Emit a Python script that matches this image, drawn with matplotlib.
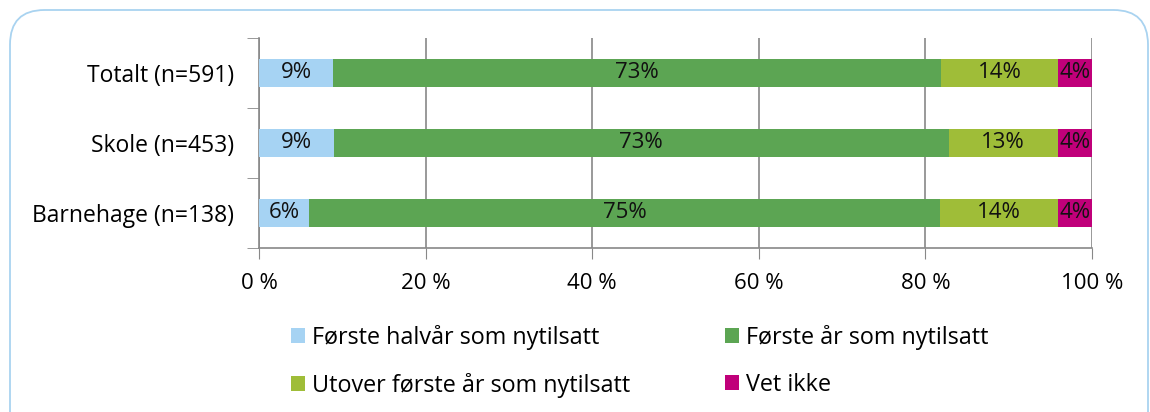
import numpy as np
import matplotlib.pyplot as plt
from matplotlib.patches import FancyBboxPatch

plt.rcParams['font.family'] = ['Open Sans', 'DejaVu Sans']

categories = ['Totalt (n=591)', 'Skole (n=453)', 'Barnehage (n=138)']
series_names = ['Første halvår som nytilsatt', 'Første år som nytilsatt',
                'Utover første år som nytilsatt', 'Vet ikke']
values = [[8.9, 73.0, 14.0, 4.1],
          [9.0, 73.8, 13.1, 4.1],
          [6.0, 75.8, 14.1, 4.1]]
labels = [['9%', '73%', '14%', '4%'],
          ['9%', '73%', '13%', '4%'],
          ['6%', '75%', '14%', '4%']]
colors = ['#A6D3F3', '#5CA553', '#9FBD38', '#C0007A']
xticks = [0, 20, 40, 60, 80, 100]

fig = plt.figure(figsize=(11.5, 4.12), dpi=100)
ax = fig.add_axes([259/1150, 1-248/412, (1092-259)/1150, 210/412])

# rounded frame around the chart
frame = FancyBboxPatch((10/1150, -0.1), 1138/1150, 1-10/412+0.1,
                       boxstyle='round,pad=0,rounding_size=0.03',
                       transform=fig.transFigure, fill=False,
                       edgecolor='#A9D3F0', linewidth=1.3, mutation_aspect=2.8)
fig.patches.append(frame)

vals = np.array(values)
ypos = np.arange(len(categories))
left = np.zeros(len(categories))
bars = []
for j in range(vals.shape[1]):
    b = ax.barh(ypos, vals[:, j], left=left, height=0.39, color=colors[j],
                label=series_names[j], zorder=3)
    bars.append(b)
    for i in range(len(categories)):
        ax.text(left[i] + vals[i, j]/2, ypos[i], labels[i][j], ha='center',
                va='center', fontsize=16, color='#111111', zorder=4)
    left = left + vals[:, j]

ax.set_xlim(0, 100)
ax.set_ylim(2.5, -0.5)
ax.set_xticks(xticks)
ax.set_xticklabels([str(t) + ' %' for t in xticks], fontsize=16)
ax.set_yticks(ypos)
ax.set_yticklabels(categories, fontsize=16.5)
ax.tick_params(axis='y', length=0, pad=18)
ax.tick_params(axis='x', length=8, color='#888888', pad=10)
ax.set_yticks([-0.5, 0.5, 1.5, 2.5], minor=True)
ax.tick_params(axis='y', which='minor', length=9, color='#888888')
ax.xaxis.grid(True, color='#888888', linewidth=1.2, zorder=0)
for s in ['top', 'right']:
    ax.spines[s].set_visible(False)
for s in ['left', 'bottom']:
    ax.spines[s].set_color('#888888')
    ax.spines[s].set_linewidth(1.2)

# legend row by row: matplotlib fills columns first, so reorder
order = [0, 2, 1, 3]
ax.legend([bars[k] for k in order], [series_names[k] for k in order],
          loc='upper left', bbox_to_anchor=(291/1150, 1-325/412),
          bbox_transform=fig.transFigure, ncol=2, frameon=False,
          fontsize=16.8, borderpad=0, borderaxespad=0,
          handlelength=0.6, handleheight=0.6, handletextpad=0.3,
          columnspacing=4.05, labelspacing=0.97)

fig.savefig('out.png', dpi=100)
